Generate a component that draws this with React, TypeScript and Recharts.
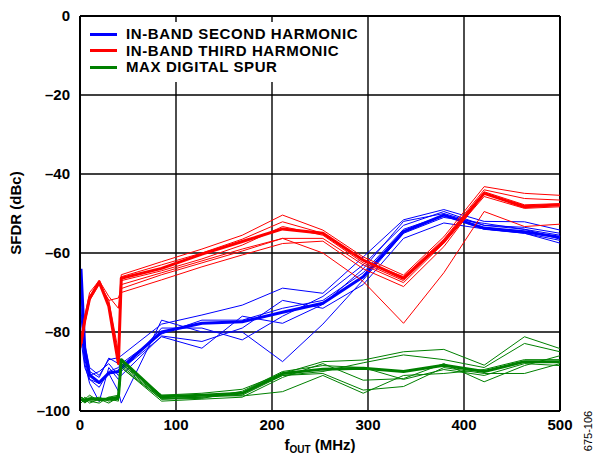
import { LineChart, Line, XAxis, YAxis, CartesianGrid, ReferenceLine } from "recharts";

const FONT = '"Liberation Sans", Arial, sans-serif';
const BLUE = "#0000FF";
const RED = "#FF0000";
const GREEN = "#008000";

// f_OUT sample points (MHz)
const FREQ = [1, 5, 10, 20, 30, 40, 43, 85, 127, 169, 211, 253, 295, 337, 379, 421, 463, 500];

const X_TICKS = [0, 100, 200, 300, 400, 500];
const Y_TICKS = [-100, -80, -60, -40, -20, 0];

// in-band second harmonic
const blueThick = [-64, -84.5, -90.9, -92.8, -90.4, -90, -89, -80, -77.8, -77.4, -75, -72.7, -66, -54.6, -50.4, -53.7, -54.6, -56];
const blueThin = [
  [-66, -83, -89, -91, -87, -86.5, -86, -78, -75.7, -73.2, -68.9, -70.2, -61, -51.6, -49, -52, -52.1, -54.2],
  [-76, -86, -91, -90, -88, -91, -90, -79, -79, -82, -76, -71, -63, -53, -49.5, -53, -53.5, -55],
  [-80, -88, -93, -97.6, -89, -92, -91, -81, -82.4, -79, -72, -74, -68, -56.3, -52.4, -53.9, -55, -57.5],
  [-82, -89, -92, -93, -90.5, -95, -98, -77, -80, -80, -87.5, -78, -66.8, -55, -51, -52.5, -54, -56.5],
  [-70, -85, -90, -91.5, -86.6, -88, -89.5, -81.2, -84.1, -76, -77.8, -73, -64, -52, -50, -53, -54, -55.5],
  [-74, -87, -92, -94, -90, -89, -88, -80.5, -77, -77, -74, -72, -65, -54, -50.5, -54, -55, -56.8],
];

// in-band third harmonic
const redThick = [-83, -77, -71.5, -67.3, -73.5, -88, -66.4, -63.9, -60.3, -57.1, -53.9, -55, -61.8, -66.4, -57.1, -44.9, -48.3, -47.8];
const redThin = [
  [-82, -76, -70, -67, -71, -74, -65.5, -62.2, -59, -55.5, -50.4, -54.2, -61, -65.6, -55.9, -43.2, -44.9, -45.4],
  [-83, -77, -71, -67.5, -72, -85, -66, -63, -60, -56.5, -52.1, -55, -62, -66, -56.5, -44, -46.2, -46.6],
  [-83, -77.5, -72, -67, -73, -87, -67, -64.5, -61.5, -58, -53.3, -55.5, -62.5, -67, -57, -44.5, -47.8, -47.5],
  [-84, -78, -72, -68, -72, -71.4, -69, -65.5, -62.5, -59.5, -56.3, -56.3, -63, -67.5, -57.5, -45.7, -48.7, -48.3],
  [-83, -77, -71.5, -67.5, -73.5, -87, -70, -66.8, -63.5, -60.5, -57.6, -57, -64, -68.5, -58.4, -45, -48, -48],
  [-83, -77, -71, -67.5, -73, -87, -68, -65, -62, -59, -56.3, -60, -67.2, -77.8, -65, -49.5, -53.3, -52.7],
];

// max digital spur
const greenThick = [-97, -97.5, -97, -97, -97, -96.5, -87, -96.4, -96, -95.5, -90.5, -89.4, -89.2, -90, -88.4, -90, -87.5, -87.5];
const greenThin = [
  [-96.5, -97, -96, -97.5, -96.5, -96, -88, -96, -95.5, -94.5, -90.5, -87.5, -87.1, -85, -84.4, -88.4, -81.2, -84.2],
  [-97, -98, -97, -96.5, -97.5, -97, -88.5, -97, -96.5, -96, -91, -90, -87.8, -85.8, -87, -89, -82.9, -85],
  [-98, -97, -98, -97, -97, -97.5, -89, -97.5, -97, -96.5, -91.5, -88, -92.2, -91.8, -88, -92.6, -88.5, -86],
  [-97.5, -96.5, -97.5, -98, -96.5, -97, -88, -96.8, -96.5, -95.5, -91, -90.5, -94.7, -93.8, -89, -90.5, -90.5, -88],
  [-97, -97.5, -96.5, -97, -98, -96.5, -87.5, -96, -96, -96.2, -95.1, -91, -95.5, -91, -90.5, -89.5, -87, -87],
  [-96.5, -97, -97, -97, -97, -97, -89, -97, -96.8, -95, -90, -88.5, -89, -92, -89.5, -91, -88, -88.5],
];

const LEGEND = [
  { name: "IN-BAND SECOND HARMONIC", color: BLUE },
  { name: "IN-BAND THIRD HARMONIC", color: RED },
  { name: "MAX DIGITAL SPUR", color: GREEN },
];

type Series = { key: string; color: string; width: number; values: number[] };

const series: Series[] = [
  ...blueThin.map((v, i) => ({ key: `b${i}`, color: BLUE, width: 1, values: v })),
  { key: "bT", color: BLUE, width: 3, values: blueThick },
  ...redThin.map((v, i) => ({ key: `r${i}`, color: RED, width: 1, values: v })),
  { key: "rT", color: RED, width: 3, values: redThick },
  ...greenThin.map((v, i) => ({ key: `g${i}`, color: GREEN, width: 1, values: v })),
  { key: "gT", color: GREEN, width: 3, values: greenThick },
];

const data = FREQ.map((f, i) => {
  const row: Record<string, number> = { f };
  series.forEach((s) => {
    row[s.key] = s.values[i];
  });
  return row;
});

const tickStyle = { fill: "#000", fontSize: 15, fontWeight: "bold", fontFamily: FONT };

const fmtY = (v: number) => (v < 0 ? `\u2013${Math.abs(v)}` : `${v}`);

const XLabel = () => (
  <g>
    <text x={320} y={450} textAnchor="middle" fontFamily={FONT} fontWeight="bold" fontSize={15} fill="#000">
      f
      <tspan fontSize={10} dy={3}>OUT</tspan>
      <tspan dy={-3}> (MHz)</tspan>
    </text>
    <text
      x={589}
      y={431}
      textAnchor="middle"
      fontFamily={FONT}
      fontSize={11}
      fill="#000"
      transform="rotate(-90 589 431)"
      dominantBaseline="middle"
    >
      675-106
    </text>
  </g>
);

const YLabel = () => (
  <text
    x={17}
    y={213}
    textAnchor="middle"
    dominantBaseline="middle"
    fontFamily={FONT}
    fontWeight="bold"
    fontSize={15}
    fill="#000"
    transform="rotate(-90 17 213)"
  >
    SFDR (dBc)
  </text>
);

export default function App() {
  return (
    <div style={{ position: "absolute", left: 0, top: 0, width: 600, height: 456, background: "#fff" }}>
      <LineChart width={600} height={456} data={data} margin={{ top: 16, right: 40, bottom: 0, left: 0 }}>
        <CartesianGrid stroke="#000" strokeWidth={1.4} horizontalValues={Y_TICKS} verticalValues={X_TICKS} />
        <XAxis
          dataKey="f"
          type="number"
          domain={[0, 500]}
          ticks={X_TICKS}
          height={45}
          tick={tickStyle}
          tickLine={false}
          tickSize={6}
          tickMargin={2}
          axisLine={{ stroke: "#000", strokeWidth: 2 }}
          label={<XLabel />}
        />
        <YAxis
          type="number"
          domain={[-100, 0]}
          ticks={Y_TICKS}
          width={80}
          tick={tickStyle}
          tickFormatter={fmtY}
          tickLine={false}
          tickSize={6}
          tickMargin={4}
          axisLine={{ stroke: "#000", strokeWidth: 2 }}
          label={<YLabel />}
        />
        <ReferenceLine y={0} stroke="#000" strokeWidth={2} />
        <ReferenceLine x={500} stroke="#000" strokeWidth={2} />
        {series.map((s) => (
          <Line
            key={s.key}
            dataKey={s.key}
            type="linear"
            stroke={s.color}
            strokeWidth={s.width}
            dot={false}
            activeDot={false}
            strokeLinejoin="round"
            isAnimationActive={false}
          />
        ))}
      </LineChart>
      <div
        style={{
          position: "absolute",
          left: 82,
          top: 22,
          width: 282,
          height: 60,
          background: "#fff",
          fontFamily: FONT,
          fontWeight: "bold",
          fontSize: 15,
          paddingTop: 4,
          boxSizing: "border-box",
        }}
      >
        {LEGEND.map((l) => (
          <div key={l.name} style={{ display: "flex", alignItems: "center", height: 16.5 }}>
            <div style={{ marginLeft: 8, width: 27, height: 3, background: l.color }} />
            <div style={{ marginLeft: 9, lineHeight: "16px", whiteSpace: "nowrap", letterSpacing: 0.6 }}>{l.name}</div>
          </div>
        ))}
      </div>
    </div>
  );
}
